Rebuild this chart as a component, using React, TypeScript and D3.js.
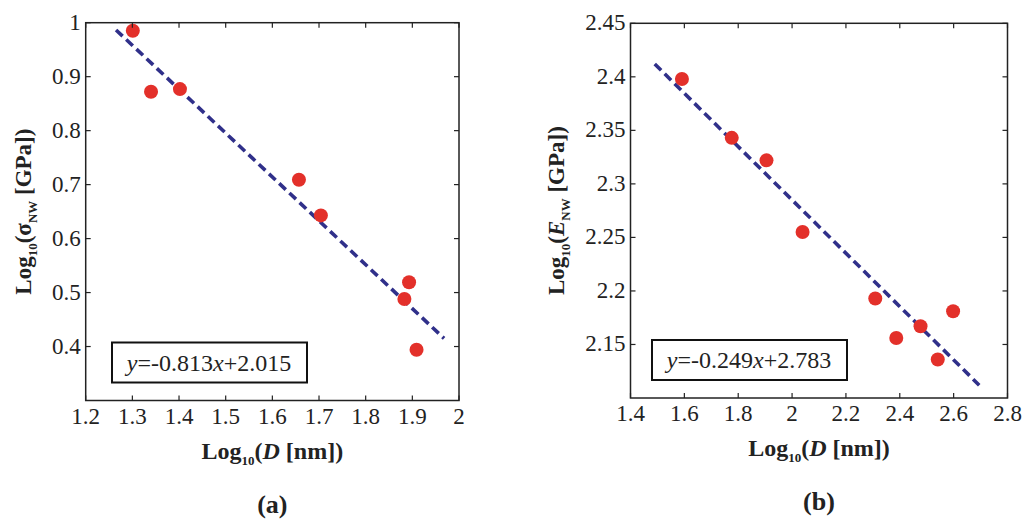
import * as d3 from 'd3';
import { FC, ReactNode } from 'react';

// panel (a): strength vs diameter
const aX = [1.301, 1.34, 1.402, 1.657, 1.704, 1.883, 1.893, 1.909];
const aY = [0.985, 0.872, 0.877, 0.709, 0.643, 0.488, 0.519, 0.394];
const aXTicks = [1.2, 1.3, 1.4, 1.5, 1.6, 1.7, 1.8, 1.9, 2];
const aYTicks = [0.4, 0.5, 0.6, 0.7, 0.8, 0.9, 1];
const aFit = { slope: -0.813, intercept: 2.015, from: 1.265, to: 1.968 };

// panel (b): modulus vs diameter
const bX = [1.591, 1.776, 1.905, 2.039, 2.309, 2.387, 2.477, 2.541, 2.598];
const bY = [2.398, 2.343, 2.322, 2.255, 2.193, 2.156, 2.167, 2.136, 2.181];
const bXTicks = [1.4, 1.6, 1.8, 2, 2.2, 2.4, 2.6, 2.8];
const bYTicks = [2.15, 2.2, 2.25, 2.3, 2.35, 2.4, 2.45];
const bFit = { slope: -0.249, intercept: 2.783, from: 1.49, to: 2.695 };

const FONT = '"Liberation Serif", "Times New Roman", serif';
const RED = '#e3302a';
const NAVY = '#30308a';

interface PanelProps {
  xs: number[];
  ys: number[];
  xTicks: number[];
  yTicks: number[];
  xDomain: [number, number];
  yDomain: [number, number];
  left: number;
  right: number;
  top: number;
  bottom: number;
  fit: { slope: number; intercept: number; from: number; to: number };
  yLabel: ReactNode;
  yLabelOffset: number;
  caption: string;
  boxX: number;
}

const Panel: FC<PanelProps> = ({
  xs, ys, xTicks, yTicks, xDomain, yDomain, left, right, top, bottom, fit, yLabel, yLabelOffset, caption, boxX,
}) => {
  const x = d3.scaleLinear().domain(xDomain).range([left, right]);
  const y = d3.scaleLinear().domain(yDomain).range([bottom, top]);
  const line = d3
    .line<number>()
    .x((d) => x(d))
    .y((d) => y(fit.slope * d + fit.intercept));
  const cx = (left + right) / 2;
  const cy = (top + bottom) / 2;
  const sign = fit.intercept >= 0 ? '+' : '-';
  return (
    <g fontFamily={FONT}>
      <path
        d={line([fit.from, fit.to]) as string}
        stroke={NAVY}
        strokeWidth={3.6}
        strokeDasharray="9 5"
        fill="none"
      />
      {xs.map((d, i) => (
        <circle key={i} cx={x(d)} cy={y(ys[i])} r={7} fill={RED} />
      ))}
      <rect x={left} y={top} width={right - left} height={bottom - top} fill="none" stroke="#222" strokeWidth={1.5} />
      {xTicks.map((t) => (
        <g key={'x' + t}>
          <line x1={x(t)} x2={x(t)} y1={bottom} y2={bottom - 5} stroke="#222" strokeWidth={1.2} />
          <line x1={x(t)} x2={x(t)} y1={top} y2={top + 5} stroke="#222" strokeWidth={1.2} />
          <text x={x(t)} y={bottom + 23} textAnchor="middle" fontSize={23} fill="#222">
            {t}
          </text>
        </g>
      ))}
      {yTicks.map((t) => (
        <g key={'y' + t}>
          <line x1={left} x2={left + 5} y1={y(t)} y2={y(t)} stroke="#222" strokeWidth={1.2} />
          <line x1={right} x2={right - 5} y1={y(t)} y2={y(t)} stroke="#222" strokeWidth={1.2} />
          <text x={left - 5} y={y(t) + 7} textAnchor="end" fontSize={23} fill="#222">
            {t}
          </text>
        </g>
      ))}
      <rect x={boxX} y={bottom - 58} width={195} height={40} fill="#fff" stroke="#111" strokeWidth={2} />
      <text x={boxX + 97} y={bottom - 30} textAnchor="middle" fontSize={24} fill="#222">
        <tspan fontStyle="italic">y</tspan>={fit.slope.toFixed(3)}
        <tspan fontStyle="italic">x</tspan>
        {sign}
        {Math.abs(fit.intercept).toFixed(3)}
      </text>
      <text x={cx} y={bottom + 58} textAnchor="middle" fontSize={24} fontWeight="bold" fill="#222">
        Log
        <tspan fontSize={13} dy={6}>10</tspan>
        <tspan dy={-6}>(</tspan>
        <tspan fontStyle="italic">D</tspan> [nm])
      </text>
      <text
        transform={`translate(${left - yLabelOffset},${cy}) rotate(-90)`}
        textAnchor="middle"
        fontSize={23}
        fontWeight="bold"
        fill="#222"
      >
        {yLabel}
      </text>
      <text x={cx} y={bottom + 112} textAnchor="middle" fontSize={26} fontWeight="bold" fill="#222">
        ({caption})
      </text>
    </g>
  );
};

const App: FC = () => {
  return (
    <svg width={1024} height={525} style={{ position: 'absolute', left: 0, top: 0, background: '#fff' }}>
      <Panel
        xs={aX}
        ys={aY}
        xTicks={aXTicks}
        yTicks={aYTicks}
        xDomain={[1.2, 2]}
        yDomain={[0.3, 1]}
        left={85.7}
        right={459}
        top={22.7}
        bottom={400.5}
        fit={aFit}
        boxX={112}
        caption="a"
        yLabelOffset={55}
        yLabel={
          <>
            Log
            <tspan fontSize={13} dy={6}>10</tspan>
            <tspan dy={-6}>(σ</tspan>
            <tspan fontSize={13} dy={6}>NW</tspan>
            <tspan dy={-6}> [GPa])</tspan>
          </>
        }
      />
      <Panel
        xs={bX}
        ys={bY}
        xTicks={bXTicks}
        yTicks={bYTicks}
        xDomain={[1.4, 2.8]}
        yDomain={[2.1, 2.45]}
        left={630.5}
        right={1007.5}
        top={23.3}
        bottom={398}
        fit={bFit}
        boxX={652}
        caption="b"
        yLabelOffset={67}
        yLabel={
          <>
            Log
            <tspan fontSize={13} dy={6}>10</tspan>
            <tspan dy={-6}>(</tspan>
            <tspan fontStyle="italic">E</tspan>
            <tspan fontSize={13} dy={6}>NW</tspan>
            <tspan dy={-6}> [GPa])</tspan>
          </>
        }
      />
    </svg>
  );
};

export default App;
